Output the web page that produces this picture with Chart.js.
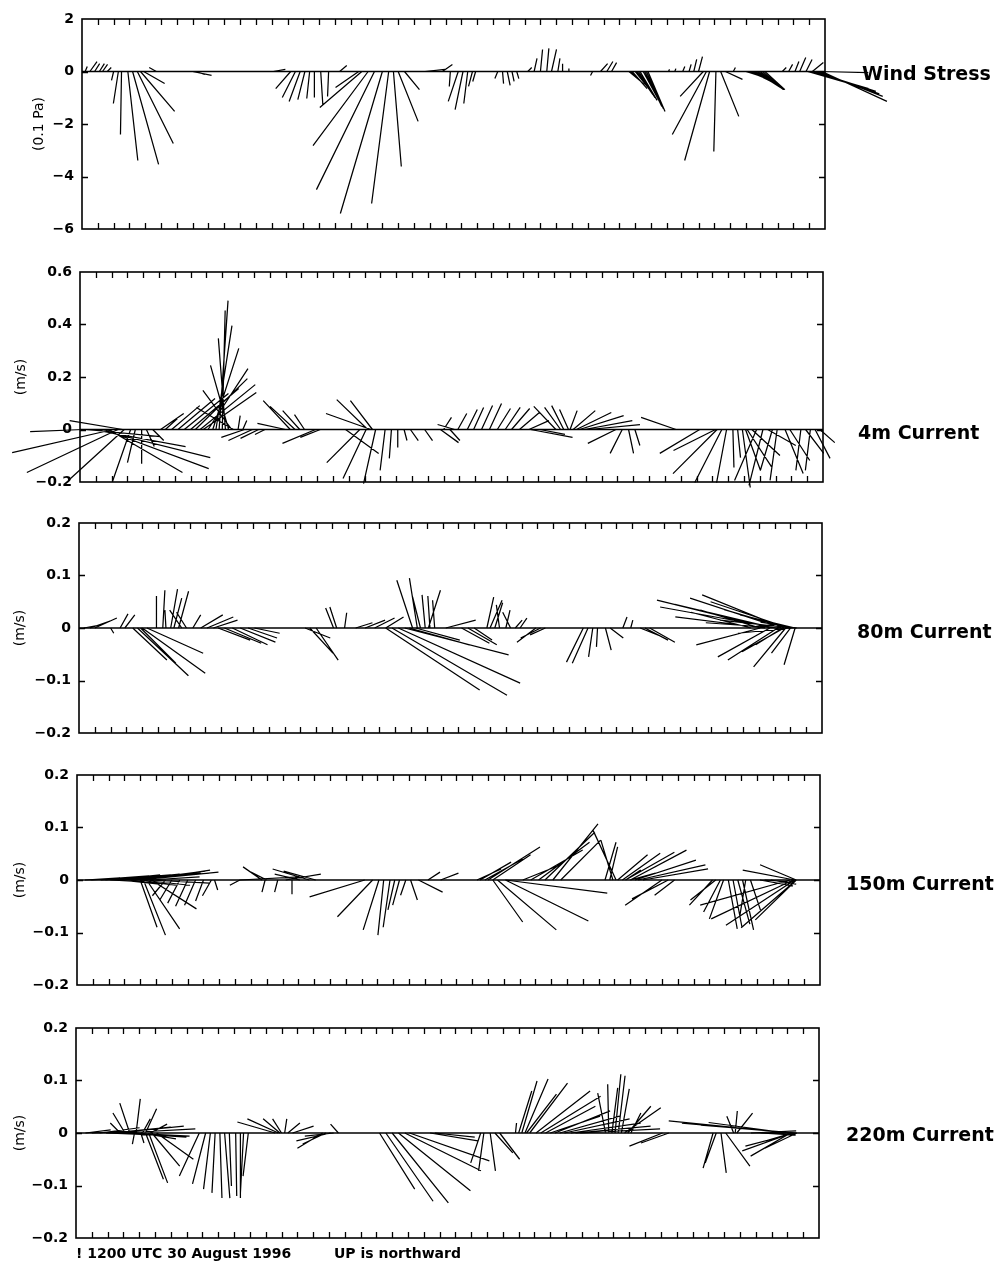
<!DOCTYPE html>
<html>
<head>
<meta charset="utf-8">
<script src="https://cdn.jsdelivr.net/npm/chart.js@4/dist/chart.umd.min.js"></script>
<style>
  html, body { margin: 0; padding: 0; background: #fff; }
  #page { position: relative; width: 997px; height: 1261px; overflow: hidden; background: #fff; }
  #page canvas { position: absolute; left: 0; }
  .side { position: absolute; font-family: 'DejaVu Sans', sans-serif; font-weight: bold; font-size: 19px; line-height: 1; color: #000; white-space: nowrap; }
  .note { position: absolute; font-family: 'DejaVu Sans', sans-serif; font-weight: bold; font-size: 14px; line-height: 1; color: #000; white-space: nowrap; }
</style>
</head>
<body>
<div id="page">
  <canvas id="c0" width="997" height="250"></canvas>
  <canvas id="c1" width="997" height="250"></canvas>
  <canvas id="c2" width="997" height="250"></canvas>
  <canvas id="c3" width="997" height="250"></canvas>
  <canvas id="c4" width="997" height="250"></canvas>
</div>
<script>
// ---- time axis (days after 1200 UTC 30 August 1996) ----
const DAY_MIN = 0;
const DAY_MAX = 47;

// ---- wind stress (units of 0.1 Pa): sample time, eastward, northward ----
const windDay = [0.2,0.5,0.8,1.1,1.3,1.6,2.0,2.3,2.5,2.9, 3.2,3.5,3.7,3.9,4.7,7.0,7.2,12.1,13.2,13.5,
  13.8,14.1,14.4,14.7,15.1,15.6,16.3,17.5,17.7,18.1, 18.5,19.0,19.4,19.7,20.0,20.4,21.7,22.8,23.3,23.8,
  24.1,24.4,24.7,24.9,26.3,26.6,26.9,27.2,27.5,28.2, 28.6,29.0,29.4,29.7,30.1,30.4,30.8,32.3,32.8,33.2,
  33.5,34.6,34.8,35.1,35.3,35.6,35.8,37.1,37.5,38.0, 38.4,38.7,39.0,39.3,39.5,39.7,40.1,40.4,40.7,41.2,
  42.0,42.3,42.6,42.9,43.2,44.3,44.7,45.1,45.4,45.8, 45.9,46.2,46.3,46.6,46.7,46.8,
  34.7,35.0,35.2,35.5,35.7,42.15,42.45,42.75,43.05,46.1,46.45];
const windEast = [0.08,0.27,0.19,0.19,0.19,0.15,-0.08,-0.19,-0.04,0.38, 0.99,1.37,1.30,0.80,-0.27,0.72,0.34,0.46,-0.57,-0.50,
  -0.42,-0.27,-0.11,0.00,0.08,-0.04,0.27,-0.88,-1.60,-2.10, -2.21,-1.60,-0.65,0.30,0.76,0.57,0.76,0.38,-0.04,-0.38,
  -0.30,-0.15,-0.15,-0.11,-0.11,0.04,0.11,0.08,0.08,0.15, 0.11,0.08,0.08,0.19,0.08,0.00,0.00,-0.08,0.27,0.23,
  0.19,0.46,0.57,0.61,0.65,0.65,0.65,0.04,0.04,0.08, 0.08,0.11,0.15,-0.88,-1.30,-0.95,-0.08,0.69,0.65,0.08,
  0.95,0.95,0.95,0.88,0.76,0.15,0.15,0.15,0.23,0.23, 1.98,0.42,2.36,2.44,1.83,2.48,
  0.52,0.60,0.63,0.65,0.65,0.95,0.95,0.92,0.82,2.20,2.40];
const windNorth = [0.19,0.38,0.30,0.30,0.27,0.15,-0.34,-1.22,-2.40,-3.39, -3.54,-2.74,-1.52,-0.46,0.15,-0.15,-0.11,0.08,-0.65,-0.99,
  -1.14,-1.07,-1.03,-0.99,-1.26,-0.95,0.23,-0.61,-1.37,-2.82, -4.50,-5.41,-5.03,-3.62,-1.90,-0.69,0.08,0.27,-0.57,-1.14,
  -1.45,-1.22,-0.57,-0.38,-0.27,-0.46,-0.53,-0.38,-0.27,0.15, 0.50,0.84,0.88,0.84,0.50,0.30,0.11,-0.15,0.30,0.38,
  0.34,-0.38,-0.65,-0.88,-1.10,-1.33,-1.52,0.08,0.11,0.19, 0.27,0.46,0.57,-0.95,-2.40,-3.39,-3.05,-1.71,-0.30,0.15,
  -0.30,-0.46,-0.61,-0.69,-0.69,0.15,0.27,0.38,0.53,0.46, -0.57,0.34,-0.76,-0.95,-0.04,-1.14,
  -0.50,-0.76,-1.00,-1.20,-1.42,-0.38,-0.53,-0.65,-0.69,-0.65,-0.85];

// ---- 4 m current (m/s) ----
const cur4Day = [0.2,0.4,0.8,1.1,1.5,1.8,2.1,2.4,2.7,2.8, 3.2,3.5,3.9,4.2,4.6,5.1,5.4,5.8,6.2,6.6,
  7.0,7.3,7.6,7.8,8.1,8.4,8.6,8.8,9.0,9.2, 9.4,9.6,9.7,10.0,10.3,10.4,10.9,11.3,11.7,13.0,
  13.3,13.6,13.9,14.2,14.9,15.2,16.8,17.7,18.1,18.2, 18.4,18.5,18.7,19.3,19.7,20.1,20.5,20.9,21.8,22.8,
  23.0,23.4,23.7,23.9,24.5,24.9,25.4,25.9,26.4,26.9, 27.3,27.8,28.4,28.5,29.1,30.1,30.4,30.6,30.9,31.0,
  31.2,31.4,31.6,31.9,32.2,33.9,34.3,34.7,35.1,37.7, 39.2,40.2,40.3,40.6,40.9,41.3,41.6,41.9,42.1,42.2,
  42.5,42.8,43.2,43.5,43.8,44.1,44.6,44.9,45.6,45.9, 46.2,46.5,46.8];
const cur4East = [-0.202,0.282,0.354,0.430,0.400,0.282,-0.385,-0.347,-0.202,-0.213, -0.069,-0.030,0.000,0.030,0.042,0.088,0.046,0.107,0.141,0.168,
  0.183,0.198,0.210,0.202,0.152,0.099,0.061,0.034,0.011,-0.027, -0.069,-0.110,-0.141,0.008,0.015,-0.088,-0.091,-0.069,-0.038,-0.107,
  -0.103,-0.095,-0.065,-0.038,-0.126,-0.076,0.126,-0.126,-0.088,-0.118, -0.171,-0.084,-0.046,-0.019,-0.008,0.000,0.011,0.030,0.030,0.069,
  0.030,0.038,-0.065,0.034,0.038,0.038,0.042,0.046,0.050,0.057, 0.069,0.076,0.076,0.160,0.095,-0.084,-0.061,-0.046,-0.034,0.027,
  0.084,0.133,0.168,0.183,0.194,-0.107,-0.046,0.019,0.019,-0.133, -0.152,-0.160,-0.168,-0.103,-0.038,0.004,0.011,0.030,0.057,0.095,
  0.107,-0.084,-0.053,0.107,-0.046,-0.027,0.069,0.076,-0.019,0.069, -0.019,0.057,0.057];
const cur4North = [-0.008,-0.027,-0.065,-0.107,-0.149,-0.164,-0.088,-0.164,0.034,-0.194, -0.198,-0.126,-0.130,-0.065,-0.042,0.061,0.042,0.091,0.118,0.137,
  0.156,0.194,0.171,0.141,0.232,0.309,0.396,0.491,0.453,0.347, 0.244,0.149,0.084,0.053,0.034,-0.030,-0.042,-0.034,-0.019,0.023,
  0.110,0.088,0.072,0.057,-0.053,-0.030,-0.091,-0.126,-0.187,0.114, 0.061,0.110,-0.206,-0.156,-0.110,-0.069,-0.042,-0.042,-0.042,-0.050,
  0.046,-0.042,0.019,0.061,0.076,0.084,0.091,0.099,0.080,0.084, 0.080,0.065,0.034,-0.030,-0.019,0.088,0.084,0.091,0.076,0.072,
  0.072,0.065,0.053,0.034,0.019,-0.053,-0.091,-0.091,-0.061,0.046, -0.091,-0.080,-0.168,-0.202,-0.202,-0.145,-0.107,-0.221,-0.156,-0.145,
  -0.099,-0.194,-0.213,-0.061,-0.156,-0.194,-0.168,-0.118,-0.156,-0.091, -0.156,-0.110,-0.050];

// ---- 80 m current (m/s) ----
const cur80Day = [0.3,0.7,1.0,2.0,2.6,2.9,3.4,3.7,3.9,4.0, 4.3,4.9,5.3,5.5,5.8,6.0,6.3,6.5,6.8,7.2,
  7.7,8.1,8.5,8.8,9.2,9.7,10.2,10.7,11.1,14.3, 14.6,15.0,16.1,16.3,16.8,17.5,18.1,18.7,19.4,19.4,
  19.8,20.2,20.6,20.9,21.1,21.3,21.4,21.6,21.9,22.1, 22.2,22.5,23.2,24.2,24.6,25.0,25.8,26.0,26.3,26.6,
  27.0,27.3,27.6,27.9,28.9,29.2,29.5,31.9,32.2,32.5, 32.8,33.3,33.6,34.4,34.9,35.5,35.8,36.1,42.5,43.1,
  43.1,43.4,43.7,43.7,44.1,44.2,44.4,44.5,44.6,44.7, 44.9,45.0,45.1,45.3,45.3,45.4,
  44.0,44.8,45.2,44.3,45.0,44.6];
const cur80East = [0.023,0.038,0.042,0.006,0.015,0.019,0.065,0.097,0.067,0.120, 0.107,0.000,0.004,-0.002,0.013,0.015,0.019,-0.023,-0.019,0.015,
  0.042,0.050,0.046,0.061,0.070,0.067,0.067,0.055,0.048,0.048, 0.044,0.042,-0.015,-0.013,0.004,0.032,0.038,0.038,0.034,0.179,
  0.219,0.232,0.198,0.114,-0.030,0.084,-0.015,-0.015,-0.006,0.023, -0.004,-0.004,0.057,0.053,0.055,0.034,0.013,0.023,0.015,-0.006,
  0.008,-0.015,0.013,0.013,-0.036,-0.038,-0.029,-0.032,-0.030,-0.008, -0.002,0.011,0.025,0.008,0.004,0.038,0.044,0.048,-0.114,-0.114,
  -0.122,-0.171,-0.215,-0.099,-0.221,-0.095,-0.173,-0.051,-0.156,-0.061, -0.149,-0.036,-0.137,-0.105,-0.021,-0.069,
  -0.190,-0.120,-0.080,-0.140,-0.100,-0.080];
const cur80North = [0.004,0.013,0.019,-0.010,0.027,0.025,-0.061,-0.091,-0.067,-0.086, -0.048,0.061,0.072,0.034,0.074,0.057,0.070,0.034,0.030,0.025,
  0.025,0.021,0.015,-0.023,-0.029,-0.032,-0.027,-0.019,-0.010,-0.019, -0.048,-0.061,0.038,0.040,0.029,0.010,0.015,0.019,0.021,-0.118,
  -0.128,-0.105,-0.051,-0.032,0.091,-0.023,0.095,0.059,0.063,0.072, 0.061,0.053,0.015,-0.029,-0.032,-0.023,0.059,0.053,0.048,0.044,
  0.034,0.030,0.015,0.019,-0.027,-0.019,-0.013,-0.065,-0.067,-0.055, -0.036,-0.042,-0.019,0.021,0.015,-0.015,-0.023,-0.027,0.030,0.034,
  -0.032,0.021,0.053,-0.055,0.040,-0.061,0.057,-0.032,0.063,-0.074, 0.050,-0.048,0.015,0.025,-0.070,0.011,
  0.045,0.035,0.020,0.010,-0.010,-0.045];

// ---- 150 m current (m/s) ----
const cur150Day = [1.5,2.1,2.7,2.7,3.4,3.4,4.0,4.0,4.2,4.4, 4.6,4.7,5.6,6.0,6.5,7.0,7.5,8.0,8.5,8.7,
  10.3,10.3,11.7,11.9,12.0,12.7,13.2,13.6,14.1,14.7, 15.1,18.2,18.7,19.1,19.4,19.8,20.1,20.4,20.8,21.1,
  21.6,22.2,23.0,25.3,25.5,25.8,26.0,26.3,26.3,26.6, 27.1,27.1,28.2,28.7,29.2,29.6,30.1,30.6,33.4,33.7,
  33.9,34.1,34.2,34.5,34.7,34.7,35.0,35.0,35.3,35.5, 35.8,37.0,37.4,37.8,40.2,40.4,40.7,40.9,41.2,41.5,
  41.8,42.1,42.3,42.6,43.2,43.5,43.9,45.1,45.3,45.4, 45.4,45.5,45.5,45.5,
  0.5,0.9,1.8,2.4,3.0,3.7,4.3,2.1,4.0,4.6];
const cur150East = [0.076,0.095,0.114,0.076,0.133,0.086,0.149,0.032,0.042,0.063, 0.095,0.086,-0.025,-0.023,-0.023,-0.023,-0.021,-0.015,-0.017,0.006,
  -0.019,0.114,-0.036,-0.006,-0.030,-0.006,0.067,0.000,-0.048,-0.070, -0.061,-0.105,-0.067,-0.030,-0.011,-0.013,-0.013,-0.013,-0.010,0.013,
  0.046,0.023,0.034,0.046,0.059,0.072,0.099,0.072,0.057,0.112, 0.158,0.194,0.072,0.099,0.097,0.095,0.086,0.076,0.021,0.015,
  -0.023,-0.044,0.057,0.072,0.093,0.029,0.107,0.048,0.116,0.128, 0.124,-0.070,-0.069,-0.038,-0.044,-0.048,-0.032,-0.027,0.017,0.017,
  0.023,0.021,-0.011,0.019,0.063,0.057,0.048,-0.171,-0.156,-0.131, -0.099,-0.105,-0.078,-0.069,
  0.067,0.110,0.124,0.143,0.162,0.133,0.124,0.076,0.095,0.114];
const cur150North = [0.006,0.010,0.011,-0.008,0.013,-0.010,0.015,-0.090,-0.105,-0.093, 0.006,-0.055,-0.030,-0.038,-0.044,-0.050,-0.048,-0.040,-0.030,-0.019,
  -0.010,0.006,0.025,-0.023,0.015,-0.023,0.011,-0.027,0.011,0.021, 0.017,-0.032,-0.070,-0.095,-0.105,-0.090,-0.057,-0.048,-0.029,-0.038,
  -0.023,0.015,0.013,0.021,0.034,0.040,0.063,0.048,-0.080,-0.095, -0.078,-0.025,0.029,0.057,0.072,0.091,0.107,0.076,0.072,0.063,
  0.076,0.095,0.048,0.051,0.053,0.019,0.057,0.013,0.038,0.029, 0.021,-0.048,-0.036,-0.029,-0.048,-0.038,-0.061,-0.074,-0.093,-0.090,
  -0.084,-0.095,-0.067,-0.057,-0.011,-0.004,-0.008,-0.048,-0.074,-0.086, 0.019,-0.091,-0.076,0.029,
  0.004,0.008,0.010,0.011,0.013,0.017,0.019,-0.004,-0.010,-0.006];

// ---- 220 m current (m/s) ----
const cur220Day = [0.6,1.5,2.2,2.8,2.8,3.1,3.4,3.4,3.7,3.8, 4.1,4.1,4.2,4.4,4.4,4.6,4.7,4.8,5.1,7.8,
  8.2,8.5,8.8,9.1,9.4,9.7,10.1,10.4,10.6,10.9, 12.6,12.8,12.9,13.0,13.2,13.4,13.7,15.6,15.8,16.1,
  16.3,16.6,19.2,19.6,20.0,20.4,20.8,21.1,22.4,22.7, 25.6,25.8,26.2,26.5,26.8,27.8,28.0,28.2,28.4,28.5,
  28.7,29.1,29.4,29.7,30.0,30.3,30.6,30.9,31.3,31.6, 31.9,33.5,33.7,33.9,34.1,34.3,34.5,34.7,34.9,35.1,
  37.1,37.5,40.3,40.5,40.8,41.1,41.6,41.7,41.8,42.7, 43.3,43.9,45.2,45.2,45.3,45.4,45.5,45.6,45.6,
  1.0,1.9,2.5,3.0,45.0,45.4,45.3];
const cur220East = [0.048,0.076,0.114,-0.019,0.143,-0.023,-0.019,0.114,-0.004,0.008, 0.067,0.006,0.015,0.021,0.034,0.036,0.032,0.053,0.070,-0.038,
  -0.025,-0.013,-0.006,0.004,0.010,0.004,0.002,0.000,-0.006,-0.010, -0.072,-0.059,-0.032,-0.017,0.004,0.023,0.040,-0.048,-0.044,-0.065,
  -0.055,-0.015,0.067,0.090,0.107,0.137,0.145,0.152,0.091,0.076, -0.019,-0.010,0.010,0.034,0.038,0.002,0.025,0.029,0.044,0.057,
  0.072,0.103,0.114,0.095,0.095,0.105,0.114,0.124,0.133,0.143, 0.152,-0.015,-0.002,0.011,0.011,0.013,0.015,0.069,0.044,0.019,
  -0.063,-0.053,-0.019,-0.021,0.010,0.046,-0.013,0.004,0.030,0.086, 0.067,0.050,-0.232,-0.076,-0.095,-0.213,-0.095,-0.183,-0.061,
  0.080,0.100,0.130,0.120,-0.150,-0.120,-0.050];
const cur220North = [0.006,0.010,0.011,0.019,0.008,0.038,0.057,-0.006,-0.021,0.065, -0.011,-0.019,0.027,0.046,-0.088,-0.095,0.017,-0.063,-0.050,-0.082,
  -0.097,-0.107,-0.114,-0.124,-0.124,-0.101,-0.120,-0.124,-0.114,-0.082, 0.021,0.027,0.027,0.027,0.027,0.019,0.013,-0.029,-0.021,-0.015,
  -0.006,0.017,-0.107,-0.130,-0.133,-0.110,-0.072,-0.053,-0.015,-0.008, -0.057,-0.072,-0.072,-0.038,-0.050,0.019,0.080,0.099,0.103,0.074,
  0.095,0.080,0.070,0.051,0.032,0.042,0.032,0.027,0.019,0.013, 0.008,0.076,0.093,0.086,0.112,0.109,0.084,0.048,0.051,0.038,
  -0.025,-0.019,-0.067,-0.057,-0.076,-0.063,0.032,0.042,0.038,0.004, -0.004,0.000,0.023,-0.044,-0.034,0.019,-0.025,0.015,-0.029,
  0.004,-0.004,0.013,-0.008,0.020,0.010,-0.015];

// ---- panel text ----
const panelNames = ['Wind Stress', '4m Current', '80m Current', '150m Current', '220m Current'];
const unitLabels = ['(0.1 Pa)', '(m/s)', '(m/s)', '(m/s)', '(m/s)'];
const startNote = '! 1200 UTC 30 August 1996';
const orientNote = 'UP is northward';

// ---- layout ----
const PAGE_W = 997, PLOT_W = 743, PLOT_H = 210, PAD_V = 20;
const panels = [
  { left: 82, top: 19,   axisLeft: 31,   yMin: -6,   yMax: 2,   step: 2,   days: windDay,   east: windEast,   north: windNorth,   nameX: 862, nameY: 73 },
  { left: 80, top: 272,  axisLeft: 12.6, yMin: -0.2, yMax: 0.6, step: 0.2, days: cur4Day,   east: cur4East,   north: cur4North,   nameX: 858, nameY: 432 },
  { left: 79, top: 523,  axisLeft: 11.6, yMin: -0.2, yMax: 0.2, step: 0.1, days: cur80Day,  east: cur80East,  north: cur80North,  nameX: 857, nameY: 631 },
  { left: 77, top: 775,  axisLeft: 11.6, yMin: -0.2, yMax: 0.2, step: 0.1, days: cur150Day, east: cur150East, north: cur150North, nameX: 846, nameY: 883 },
  { left: 76, top: 1028, axisLeft: 11.6, yMin: -0.2, yMax: 0.2, step: 0.1, days: cur220Day, east: cur220East, north: cur220North, nameX: 846, nameY: 1134 }
];

// Each vector is drawn from (day, 0) to its tip; the east component uses the
// same pixel length per unit as the vertical axis, so directions are true.
function stickSeries(days, east, north, k) {
  const pts = [];
  for (let i = 0; i < days.length; i++) {
    pts.push({ x: days[i], y: 0 });
    pts.push({ x: days[i] + east[i] * k, y: north[i] });
    pts.push({ x: days[i], y: null });
  }
  return pts;
}

// Frame with inward tick marks on all four sides.
const framePlugin = {
  id: 'frame',
  afterDatasetsDraw(chart) {
    const { ctx, chartArea: a, scales: { x, y } } = chart;
    ctx.save();
    ctx.strokeStyle = '#000';
    ctx.lineWidth = 1.6;
    ctx.strokeRect(a.left, a.top, a.right - a.left, a.bottom - a.top);
    ctx.lineWidth = 1.3;
    ctx.beginPath();
    x.ticks.forEach(t => {
      if (t.value <= x.min || t.value >= x.max) return;
      const px = Math.round(x.getPixelForValue(t.value)) + 0.5;
      ctx.moveTo(px, a.top); ctx.lineTo(px, a.top + 6);
      ctx.moveTo(px, a.bottom); ctx.lineTo(px, a.bottom - 6);
    });
    y.ticks.forEach(t => {
      if (t.value <= y.min || t.value >= y.max) return;
      const py = Math.round(y.getPixelForValue(t.value)) + 0.5;
      ctx.moveTo(a.left, py); ctx.lineTo(a.left + 6, py);
      ctx.moveTo(a.right, py); ctx.lineTo(a.right - 6, py);
    });
    ctx.stroke();
    ctx.restore();
  }
};

const page = document.getElementById('page');

panels.forEach((p, i) => {
  const canvas = document.getElementById('c' + i);
  canvas.style.top = (p.top - PAD_V) + 'px';
  const pxPerUnit = PLOT_H / (p.yMax - p.yMin);
  const pxPerDay = PLOT_W / (DAY_MAX - DAY_MIN);
  const k = pxPerUnit / pxPerDay;

  new Chart(canvas, {
    type: 'line',
    data: {
      datasets: [
        {
          data: [{ x: DAY_MIN, y: 0 }, { x: DAY_MAX, y: 0 }],
          borderColor: '#000', borderWidth: 1.6, pointRadius: 0, clip: false
        },
        {
          data: stickSeries(p.days, p.east, p.north, k),
          borderColor: '#000', borderWidth: 1.25, pointRadius: 0,
          spanGaps: false, tension: 0, clip: false
        }
      ]
    },
    options: {
      responsive: false,
      animation: false,
      events: [],
      layout: { padding: { left: p.axisLeft, right: PAGE_W - p.left - PLOT_W, top: PAD_V, bottom: PAD_V } },
      plugins: { legend: { display: false }, tooltip: { enabled: false } },
      scales: {
        x: {
          type: 'linear', min: DAY_MIN, max: DAY_MAX,
          ticks: { display: false, stepSize: 1, maxTicksLimit: 200 },
          grid: { display: false, drawTicks: false },
          border: { display: false },
          afterFit(s) { s.height = 0; }
        },
        y: {
          type: 'linear', min: p.yMin, max: p.yMax,
          ticks: {
            stepSize: p.step, padding: 8, color: '#000',
            font: { family: 'DejaVu Sans', weight: 'bold', size: 14 },
            callback: v => (v < 0 ? '\u2212' : '') + String(Math.abs(Math.round(v * 100) / 100))
          },
          grid: { display: false, drawTicks: false },
          border: { display: false },
          title: {
            display: true, text: unitLabels[i], color: '#000', padding: 0,
            font: { family: 'DejaVu Sans', size: 14, weight: 'normal' }
          },
          afterFit(s) { s.width = p.left - p.axisLeft; }
        }
      }
    },
    plugins: [framePlugin]
  });

  const name = document.createElement('div');
  name.className = 'side';
  name.textContent = panelNames[i];
  name.style.left = p.nameX + 'px';
  name.style.top = (p.nameY - 9) + 'px';
  page.appendChild(name);
});

const n1 = document.createElement('div');
n1.className = 'note';
n1.textContent = startNote;
n1.style.left = '76px';
n1.style.top = '1246px';
page.appendChild(n1);

const n2 = document.createElement('div');
n2.className = 'note';
n2.textContent = orientNote;
n2.style.left = '334px';
n2.style.top = '1246px';
page.appendChild(n2);
</script>
</body>
</html>
